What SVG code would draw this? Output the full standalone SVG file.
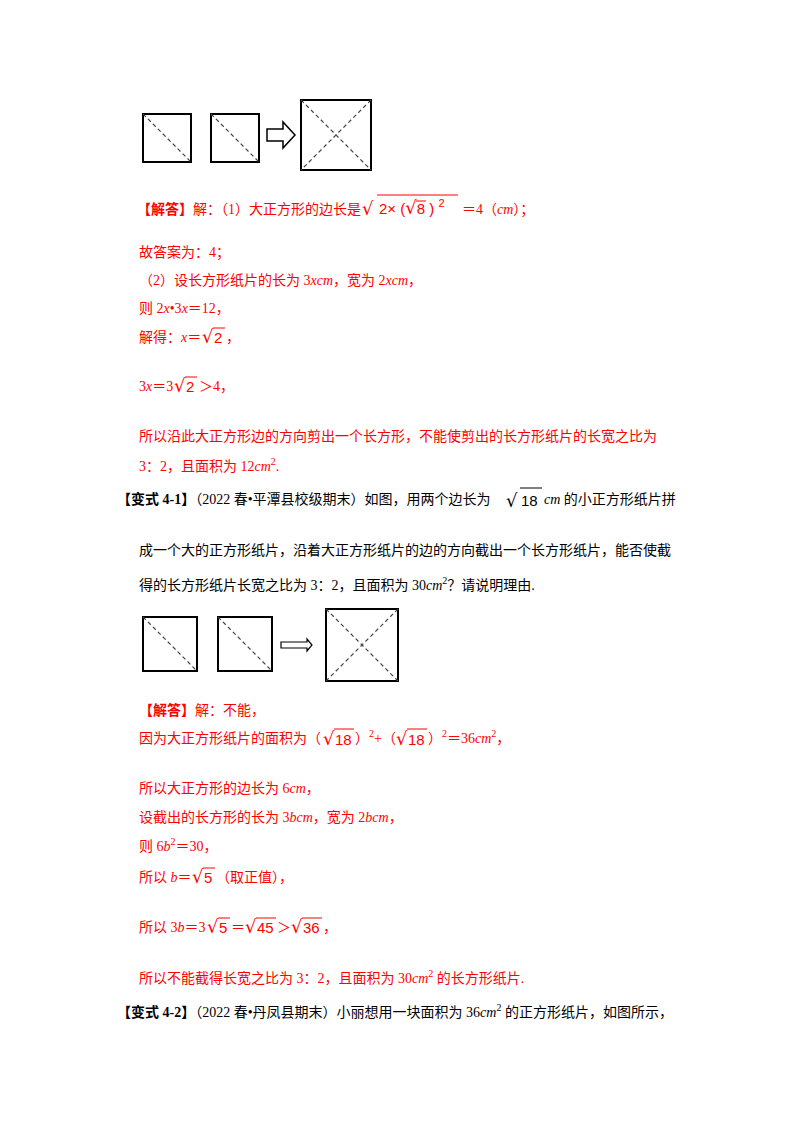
<svg xmlns="http://www.w3.org/2000/svg" width="800" height="1132" viewBox="0 0 800 1132">
<style>
text{font-family:"Liberation Serif","Noto Sans CJK SC",serif;font-size:14px;fill:#000}
.r{fill:#f00}
.b{font-weight:bold}
.rad{font-family:"DejaVu Sans",sans-serif;font-size:18px}
.num{font-family:"Liberation Sans",sans-serif;font-size:15px}
.sq{fill:none;stroke:#000;stroke-width:2}
.d{stroke:#444;stroke-width:1.2;stroke-dasharray:4,3}
.ov{stroke:#000;stroke-width:1}
.ovr{stroke:#f00;stroke-width:1}
</style>
<rect width="800" height="1132" fill="#fff"/>
<g id="fig1">
<rect class="sq" x="143" y="114" width="48" height="48"/><line class="d" x1="143" y1="114" x2="191" y2="162"/>
<rect class="sq" x="211" y="114" width="48" height="48"/><line class="d" x1="211" y1="114" x2="259" y2="162"/>
<polygon points="267,129 283,129 283,122 295,135 283,148 283,141 267,141" fill="none" stroke="#000" stroke-width="1.5"/>
<rect class="sq" x="301" y="100" width="70" height="70"/>
<line class="d" x1="301" y1="100" x2="371" y2="170"/><line class="d" x1="371" y1="100" x2="301" y2="170"/>
</g>
<g id="text1">
<text x="137" y="214" class="r"><tspan class="b">【解答】</tspan>解：（1）大正方形的边长是</text>
<text x="362" y="215" class="r rad" font-size="24">√</text>
<line class="ovr" x1="377" y1="195" x2="458" y2="195"/>
<text x="379" y="214" class="r num">2× (<tspan class="rad" font-size="15">√</tspan>8 ) <tspan dy="-7" font-size="11">2</tspan></text>
<line class="ovr" x1="416" y1="201" x2="426" y2="201"/>
<text x="462" y="214" class="r">＝4（<tspan font-style="italic">cm</tspan>）；</text>
<text x="139" y="257" class="r">故答案为：4；</text>
<text x="139" y="285" class="r">（2）设长方形纸片的长为 3<tspan font-style="italic">xcm</tspan>，宽为 2<tspan font-style="italic">xcm</tspan>，</text>
<text x="139" y="313" class="r">则 2<tspan font-style="italic">x</tspan>•3<tspan font-style="italic">x</tspan>＝12，</text>
<text x="139" y="342" class="r">解得：<tspan font-style="italic">x</tspan>＝</text>
<text x="202" y="343" class="r rad">√</text>
<line class="ovr" x1="213" y1="328" x2="225" y2="328"/>
<text x="214" y="343" class="r num">2</text>
<text x="226" y="342" class="r">，</text>
<text x="139" y="391" class="r">3<tspan font-style="italic">x</tspan>＝3</text>
<text x="174" y="392" class="r rad">√</text>
<line class="ovr" x1="185" y1="377" x2="197" y2="377"/>
<text x="186" y="392" class="r num">2</text>
<text x="199" y="391" class="r">＞4，</text>
<text x="139" y="441" class="r">所以沿此大正方形边的方向剪出一个长方形，不能使剪出的长方形纸片的长宽之比为</text>
<text x="139" y="471" class="r">3：2，且面积为 12<tspan font-style="italic">cm</tspan><tspan dy="-6" font-size="10">2</tspan><tspan dy="6">.</tspan></text>
<text x="117" y="504"><tspan class="b">【变式 4-1】</tspan>（2022 春•平潭县校级期末）如图，用两个边长为</text>
<text x="506" y="507" class="rad" font-size="22">√</text>
<line class="ov" x1="520" y1="488" x2="542" y2="488"/>
<text x="521" y="506" class="num" font-size="16">18</text>
<text x="544" y="504"><tspan font-style="italic">cm</tspan> 的小正方形纸片拼</text>
<text x="139" y="555">成一个大的正方形纸片，沿着大正方形纸片的边的方向截出一个长方形纸片，能否使截</text>
<text x="139" y="590">得的长方形纸片长宽之比为 3：2，且面积为 30<tspan font-style="italic">cm</tspan><tspan dy="-6" font-size="10">2</tspan><tspan dy="6">？请说明理由.</tspan></text>
</g>
<g id="fig2">
<rect class="sq" x="143" y="617" width="54" height="54"/><line class="d" x1="143" y1="617" x2="197" y2="671"/>
<rect class="sq" x="218" y="617" width="54" height="54"/><line class="d" x1="218" y1="617" x2="272" y2="671"/>
<polygon points="281,642 307,642 307,639 312,645 307,651 307,648 281,648" fill="none" stroke="#000" stroke-width="1.2"/>
<rect class="sq" x="326" y="609" width="72" height="72"/>
<line class="d" x1="326" y1="609" x2="398" y2="681"/><line class="d" x1="398" y1="609" x2="326" y2="681"/>
</g>
<g id="text2">
<text x="139" y="715" class="r"><tspan class="b">【解答】</tspan>解：不能，</text>
<text x="139" y="743" class="r">因为大正方形纸片的面积为（</text>
<text x="323" y="745" class="r rad">√</text>
<line class="ovr" x1="334" y1="729" x2="354" y2="729"/>
<text x="335" y="745" class="r num">18</text>
<text x="355" y="743" class="r">）<tspan dy="-6" font-size="10">2</tspan><tspan dy="6">+（</tspan></text>
<text x="396" y="745" class="r rad">√</text>
<line class="ovr" x1="407" y1="729" x2="427" y2="729"/>
<text x="408" y="745" class="r num">18</text>
<text x="428" y="743" class="r">）<tspan dy="-6" font-size="10">2</tspan><tspan dy="6">＝36</tspan><tspan font-style="italic">cm</tspan><tspan dy="-6" font-size="10">2</tspan><tspan dy="6">，</tspan></text>
<text x="139" y="793" class="r">所以大正方形的边长为 6<tspan font-style="italic">cm</tspan>，</text>
<text x="139" y="822" class="r">设截出的长方形的长为 3<tspan font-style="italic">bcm</tspan>，宽为 2<tspan font-style="italic">bcm</tspan>，</text>
<text x="139" y="851" class="r">则 6<tspan font-style="italic">b</tspan><tspan dy="-6" font-size="10">2</tspan><tspan dy="6">＝30，</tspan></text>
<text x="139" y="882" class="r">所以 <tspan font-style="italic">b</tspan>＝</text>
<text x="192" y="883" class="r rad">√</text>
<line class="ovr" x1="203" y1="868" x2="215" y2="868"/>
<text x="204" y="883" class="r num">5</text>
<text x="216" y="882" class="r">（取正值），</text>
<text x="139" y="932" class="r">所以 3<tspan font-style="italic">b</tspan>＝3</text>
<text x="207" y="933" class="r rad">√</text>
<line class="ovr" x1="218" y1="918" x2="230" y2="918"/>
<text x="219" y="933" class="r num">5</text>
<text x="231" y="932" class="r">＝</text>
<text x="245" y="933" class="r rad">√</text>
<line class="ovr" x1="256" y1="918" x2="276" y2="918"/>
<text x="257" y="933" class="r num">45</text>
<text x="277" y="932" class="r">＞</text>
<text x="291" y="933" class="r rad">√</text>
<line class="ovr" x1="302" y1="918" x2="322" y2="918"/>
<text x="303" y="933" class="r num">36</text>
<text x="323" y="932" class="r">，</text>
<text x="139" y="983" class="r">所以不能截得长宽之比为 3：2，且面积为 30<tspan font-style="italic">cm</tspan><tspan dy="-6" font-size="10">2</tspan><tspan dy="6"> 的长方形纸片.</tspan></text>
<text x="117" y="1017"><tspan class="b">【变式 4-2】</tspan>（2022 春•丹凤县期末）小丽想用一块面积为 36<tspan font-style="italic">cm</tspan><tspan dy="-6" font-size="10">2</tspan><tspan dy="6"> 的正方形纸片，如图所示，</tspan></text>
</g>
</svg>
